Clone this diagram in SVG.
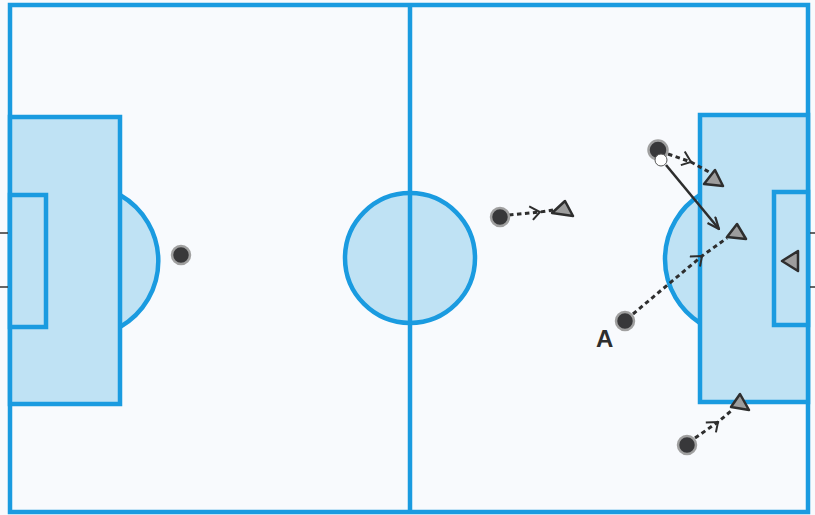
<svg xmlns="http://www.w3.org/2000/svg" width="815" height="515" viewBox="0 0 815 515">
<style>
.line{stroke:#1a9be0;stroke-width:4.5;fill:none}
.area{stroke:#1a9be0;stroke-width:4.5;fill:#bfe2f4}
.mark{stroke:#333;stroke-width:1.5}
.player{fill:#38383a;stroke:#a0a0a0;stroke-width:2.5}
.cone{fill:#9d9d9d;stroke:#2e2e2e;stroke-width:2.5;stroke-linejoin:round}
.run{fill:none;stroke:#2e2e2e;stroke-width:3;stroke-dasharray:4.5 3.5}
.pass{fill:none;stroke:#2e2e2e;stroke-width:2.6}
.label{font-family:"Liberation Sans",Arial,sans-serif;font-weight:bold;font-size:24px;fill:#2e2e2e}
</style>
<defs>
<marker id="chev" viewBox="0 0 14 16" refX="11" refY="8" markerWidth="14" markerHeight="16" markerUnits="userSpaceOnUse" orient="auto">
<path d="M1,1 L11,8 L3,15" fill="none" stroke="#2e2e2e" stroke-width="2"/>
</marker>
<marker id="head" viewBox="0 0 14 12" refX="13" refY="6" markerWidth="14" markerHeight="12" markerUnits="userSpaceOnUse" orient="auto">
<path d="M1,1 L13,6 L1,11" fill="none" stroke="#2e2e2e" stroke-width="2.2"/>
</marker>
</defs>
<rect x="0" y="0" width="815" height="515" fill="#f8fafd"/>
<g id="pitch">
<rect x="10" y="5" width="798" height="507" fill="#f8fafd" class="line"/>
<line x1="410" y1="5" x2="410" y2="512" class="line"/>
<circle cx="410" cy="258" r="65" class="area"/>
<line x1="410" y1="193" x2="410" y2="323" class="line"/>
<path d="M120,195 A76,76 0 0 1 120,327" class="area"/>
<rect x="10" y="117" width="110" height="287" class="area"/>
<rect x="10" y="195" width="36" height="132" class="area"/>
<path d="M700,195 A76,76 0 0 0 700,323" class="area"/>
<rect x="700" y="115" width="108" height="287" class="area"/>
<rect x="774" y="192" width="34" height="133" class="area"/>
<line x1="0" y1="233" x2="8" y2="233" class="mark"/>
<line x1="0" y1="287" x2="8" y2="287" class="mark"/>
<line x1="810" y1="233" x2="815" y2="233" class="mark"/>
<line x1="810" y1="287" x2="815" y2="287" class="mark"/>
</g>
<g id="connectors">
<polyline points="509,215 540,212 553,210" class="run" marker-mid="url(#chev)"/>
<polyline points="668,154 691,162 709,172" class="run" marker-mid="url(#chev)"/>
<line x1="666" y1="165" x2="719" y2="229" class="pass" marker-end="url(#head)"/>
<polyline points="633,314 702,256 727,238" class="run" marker-mid="url(#chev)"/>
<polyline points="695,438 718,422 731,411" class="run" marker-mid="url(#chev)"/>
</g>
<g id="player-left"><circle cx="181" cy="255" r="9" class="player"/></g>
<g id="player-mid"><circle cx="500" cy="217" r="9" class="player"/></g>
<g id="cone-mid"><polygon points="565,201 552,213 573,216" class="cone"/></g>
<g id="player-top"><circle cx="658" cy="150" r="9.5" class="player"/><circle cx="661" cy="160" r="6" fill="#ffffff" stroke="#555" stroke-width="1"/></g>
<g id="cone-top"><polygon points="715,170 704,184 723,186" class="cone"/></g>
<g id="cone-right"><polygon points="737,224 727,237 746,239" class="cone"/></g>
<g id="cone-goal"><polygon points="798,251 782,261 798,271" class="cone"/></g>
<g id="player-a"><circle cx="625" cy="321" r="9" class="player"/><text x="596" y="347" class="label">A</text></g>
<g id="player-bottom"><circle cx="687" cy="445" r="9" class="player"/></g>
<g id="cone-bottom"><polygon points="740,394 731,407 749,410" class="cone"/></g>
</svg>
